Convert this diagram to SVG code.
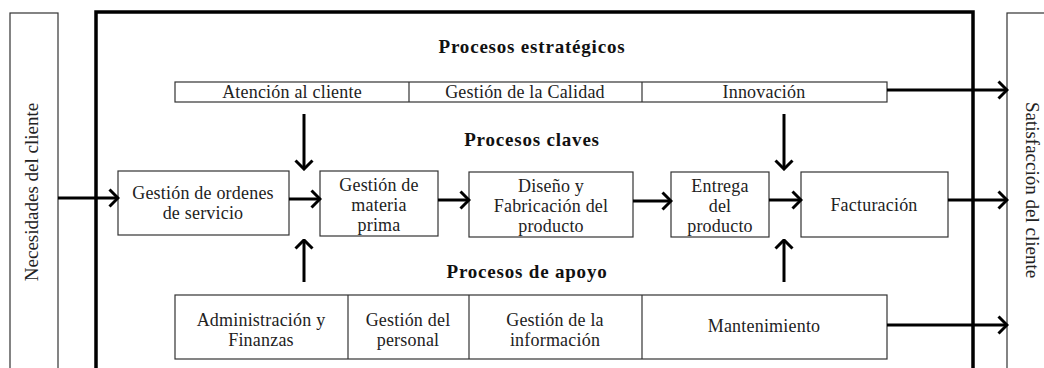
<svg xmlns="http://www.w3.org/2000/svg" width="1044" height="368" viewBox="0 0 1044 368">
<style>
.box{fill:#fff;stroke:#333;stroke-width:1.2}
.t{font-family:"Liberation Serif","Times New Roman",serif;font-size:18px;letter-spacing:0.2px;fill:#222;text-anchor:middle}
.v{font-family:"Liberation Serif","Times New Roman",serif;font-size:19px;fill:#222;text-anchor:middle}
.h{font-family:"Liberation Serif","Times New Roman",serif;font-size:19px;letter-spacing:0.8px;font-weight:bold;fill:#111;text-anchor:middle}
.c{fill:none;stroke:#000;stroke-width:3}
</style>
<defs>
<marker id="ah" viewBox="0 0 12 20" refX="10.5" refY="10" markerWidth="12" markerHeight="20" markerUnits="userSpaceOnUse" orient="auto">
<path d="M2,1.5 L10.5,10 L2,18.5" fill="none" stroke="#000" stroke-width="3"/>
</marker>
</defs>
<rect width="1044" height="368" fill="#fff"/>
<g id="entrada">
<rect class="box" x="10" y="13" width="48" height="370"/>
<text class="v" transform="translate(38,192) rotate(-90)">Necesidades del cliente</text>
</g>
<g id="salida">
<rect class="box" x="1007" y="13" width="60" height="370"/>
<text class="v" transform="translate(1026,190) rotate(90)">Satisfacción del cliente</text>
</g>
<g id="organizacion">
<rect x="96" y="12" width="877" height="380" fill="none" stroke="#000" stroke-width="3.5"/>
</g>
<g id="titulos">
<text class="h" x="532" y="53">Procesos estratégicos</text>
<text class="h" x="532" y="146">Procesos claves</text>
<text class="h" x="527" y="278">Procesos de apoyo</text>
</g>
<g id="estrategicos">
<rect class="box" x="175" y="82" width="712" height="20"/>
<line x1="409" y1="82" x2="409" y2="102" stroke="#333" stroke-width="1.2"/>
<line x1="642" y1="82" x2="642" y2="102" stroke="#333" stroke-width="1.2"/>
<text class="t" x="292" y="98">Atención al cliente</text>
<text class="t" x="525" y="98">Gestión de la Calidad</text>
<text class="t" x="764" y="98">Innovación</text>
</g>
<g id="apoyo">
<rect class="box" x="175" y="295" width="712" height="64"/>
<line x1="348" y1="295" x2="348" y2="359" stroke="#333" stroke-width="1.2"/>
<line x1="469" y1="295" x2="469" y2="359" stroke="#333" stroke-width="1.2"/>
<line x1="642" y1="295" x2="642" y2="359" stroke="#333" stroke-width="1.2"/>
<text class="t" x="261" y="326">Administración y</text>
<text class="t" x="261" y="346">Finanzas</text>
<text class="t" x="408" y="326">Gestión del</text>
<text class="t" x="408" y="346">personal</text>
<text class="t" x="555" y="326">Gestión de la</text>
<text class="t" x="555" y="346">información</text>
<text class="t" x="764" y="332">Mantenimiento</text>
</g>
<g id="ordenes">
<rect class="box" x="118" y="171" width="171" height="64"/>
<text class="t" x="203" y="199">Gestión de ordenes</text>
<text class="t" x="203" y="219">de servicio</text>
</g>
<g id="materia">
<rect class="box" x="320" y="171" width="118" height="65"/>
<text class="t" x="379" y="191">Gestión de</text>
<text class="t" x="379" y="211">materia</text>
<text class="t" x="379" y="231">prima</text>
</g>
<g id="diseno">
<rect class="box" x="469" y="172" width="164" height="65"/>
<text class="t" x="551" y="192">Diseño y</text>
<text class="t" x="551" y="212">Fabricación del</text>
<text class="t" x="551" y="232">producto</text>
</g>
<g id="entrega">
<rect class="box" x="671" y="172" width="98" height="65"/>
<text class="t" x="720" y="192">Entrega</text>
<text class="t" x="720" y="212">del</text>
<text class="t" x="720" y="232">producto</text>
</g>
<g id="facturacion">
<rect class="box" x="801" y="172" width="147" height="65"/>
<text class="t" x="874" y="211">Facturación</text>
</g>
<g id="conectores">
<line class="c" x1="58" y1="198" x2="118" y2="198" marker-end="url(#ah)"/>
<line class="c" x1="289" y1="199" x2="320" y2="199" marker-end="url(#ah)"/>
<line class="c" x1="438" y1="200" x2="469" y2="200" marker-end="url(#ah)"/>
<line class="c" x1="633" y1="201" x2="671" y2="201" marker-end="url(#ah)"/>
<line class="c" x1="769" y1="200" x2="801" y2="200" marker-end="url(#ah)"/>
<line class="c" x1="948" y1="200" x2="1007" y2="200" marker-end="url(#ah)"/>
<line class="c" x1="887" y1="90" x2="1007" y2="90" marker-end="url(#ah)"/>
<line class="c" x1="887" y1="325" x2="1007" y2="325" marker-end="url(#ah)"/>
<line class="c" x1="304" y1="114" x2="304" y2="169" marker-end="url(#ah)"/>
<line class="c" x1="784" y1="114" x2="784" y2="169" marker-end="url(#ah)"/>
<line class="c" x1="304" y1="282" x2="304" y2="240" marker-end="url(#ah)"/>
<line class="c" x1="784" y1="282" x2="784" y2="240" marker-end="url(#ah)"/>
</g>
</svg>
